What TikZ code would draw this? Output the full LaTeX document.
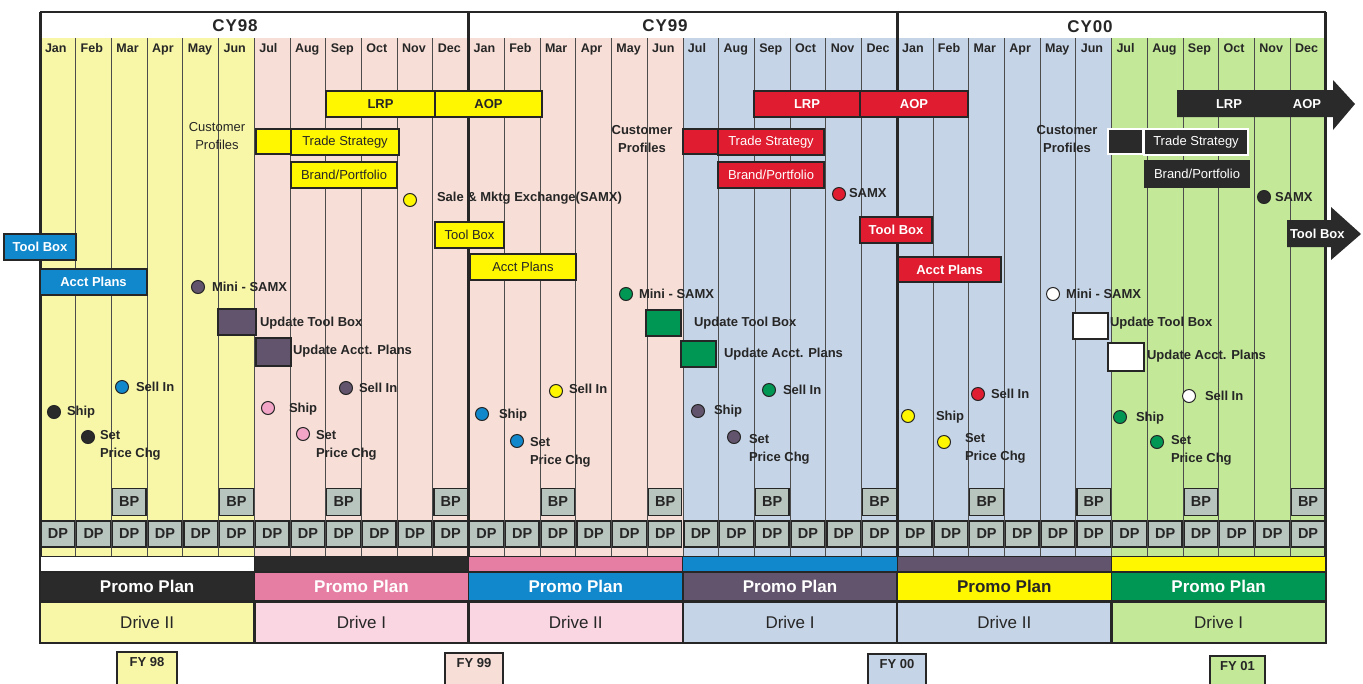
\documentclass[tikz,border=0pt]{standalone}
\usepackage{fontspec}
\setmainfont{Liberation Sans}
\usetikzlibrary{positioning}
\definecolor{bgyellow}{RGB}{248,247,168}
\definecolor{bgpink}{RGB}{247,222,214}
\definecolor{bgblue}{RGB}{198,212,231}
\definecolor{bggreen}{RGB}{194,232,152}
\definecolor{drivepink}{RGB}{249,214,225}
\definecolor{taskyellow}{RGB}{255,247,0}
\definecolor{taskred}{RGB}{224,28,48}
\definecolor{taskblue}{RGB}{18,136,204}
\definecolor{taskdark}{RGB}{42,42,42}
\definecolor{taskpurple}{RGB}{98,84,108}
\definecolor{taskgreen}{RGB}{0,150,84}
\definecolor{taskpink}{RGB}{229,126,162}
\definecolor{dotpink}{RGB}{242,165,198}
\definecolor{plangrey}{RGB}{184,196,190}
\definecolor{ink}{RGB}{38,38,38}

\begin{document}
\begin{tikzpicture}[x=1pt, y=-1pt,
  every node/.style={inner sep=0pt, outer sep=0pt, text=ink, font=\fontsize{13}{15}\selectfont},
  month/.style={anchor=west, text height=9.3pt, text depth=0pt, font=\fontsize{12.5}{15}\selectfont\bfseries},
  yearlbl/.style={font=\fontsize{17}{19}\selectfont\bfseries\addfontfeature{LetterSpace=5}},
  monthline/.style={draw=black!70, line width=0.9pt},
  yearline/.style={draw=ink, line width=3pt},
  task/.style={draw=ink, line width=1.2pt, minimum height=26pt},
  ytask/.style={task, fill=taskyellow},
  rtask/.style={task, fill=taskred, text=white},
  btask/.style={task, fill=taskblue, text=white, font=\fontsize{13}{15}\selectfont\bfseries},
  dtask/.style={draw=white, line width=1.2pt, fill=taskdark, text=white, minimum height=26pt},
  dot/.style={circle, draw=ink, line width=1pt, minimum size=13pt},
  lbl/.style={anchor=west, text height=9.3pt, text depth=0pt, font=\fontsize{13}{15}\selectfont\bfseries},
  pair/.style={anchor=north west, align=left, font=\fontsize{13}{18}\selectfont\bfseries},
  cust/.style={align=center, font=\fontsize{13}{18}\selectfont},
  plan/.style={draw=ink, line width=1.2pt, fill=plangrey, minimum width=33.5pt, minimum height=26pt, font=\fontsize{14.5}{16}\selectfont\bfseries},
  strip/.style={draw=ink, line width=1pt, minimum width=214.3pt, minimum height=16pt},
  promo/.style={draw=ink, line width=1.5pt, minimum width=214.3pt, minimum height=29pt, font=\fontsize{17}{19}\selectfont\bfseries},
  drive/.style={draw=ink, line width=2.4pt, minimum width=214.3pt, minimum height=41pt, font=\fontsize{17}{19}\selectfont},
  fybox/.style={anchor=north west, draw=ink, line width=2pt, inner ysep=5pt, text height=9.5pt, text depth=26pt, font=\fontsize{13}{15}\selectfont\bfseries}]
\useasboundingbox (0,0) rectangle (1363,683);

% half-year backgrounds
\fill[bgyellow] (40,38) rectangle (254.3,556);
\fill[bgpink] (254.3,38) rectangle (682.9,556);
\fill[bgblue] (682.9,38) rectangle (1111.5,556);
\fill[bggreen] (1111.5,38) rectangle (1325.8,556);
\fill[white] (40,12) rectangle (1325.8,38);

\foreach \i in {1,...,35}
  \draw[monthline] ({40+\i*35.72},38) -- ({40+\i*35.72},556);

% months and years
\foreach \yr [count=\k from 0] in {98,99,00} {
  \foreach \mo [count=\i from 0] in {Jan,Feb,Mar,Apr,May,Jun,Jul,Aug,Sep,Oct,Nov,Dec}
    \node[month] (\mo\yr) at ({45+\k*428.6+\i*35.72},48) {\mo};
}
\node[yearlbl] (cy98) at (235,26) {CY98};
\node[yearlbl] (cy99) at (665,26) {CY99};
\node[yearlbl] (cy00) at (1090,27) {CY00};

\draw[ink, line width=2pt] (40,12) -- (1325.8,12);
\foreach \x in {40,468.6,897.2,1325.8}
  \draw[yearline] (\x,12) -- (\x,643);

% CY98
\node[ytask, minimum width=109pt] (lrp98) at (380.5,104) {\bfseries LRP};
\node[ytask, minimum width=107pt] (aop98) at (488.5,104) {\bfseries AOP};
\node[cust] (cust98) at (217,136) {Customer\\Profiles};
\node[ytask, minimum width=35pt, minimum height=25pt] (pre98) at (273.5,141.5) {};
\node[ytask, minimum width=108pt] (trade98) at (345,142) {Trade Strategy};
\node[ytask, minimum width=106pt] (brand98) at (344,175) {Brand/Portfolio};
\node[dot, fill=taskyellow] (samx98) at (410,200) {};
\node[lbl] (samx98l) at (437,197) {Sale \& Mktg Exchange(SAMX)};
\node[btask, minimum width=72pt] (tool98) at (40,247) {Tool Box};
\node[btask, minimum width=107pt] (acct98) at (93.5,282) {Acct Plans};
\node[dot, fill=taskpurple] (mini98) at (198,287) {};
\node[lbl] (mini98l) at (212,287) {Mini - SAMX};
\node[task, fill=taskpurple, minimum width=38pt] (upt98) at (237,322) {};
\node[lbl] (upt98l) at (260,322) {Update Tool Box};
\node[task, fill=taskpurple, minimum width=35pt, minimum height=28pt] (upa98) at (273.5,352) {};
\node[lbl] (upa98l) at (293,350) {Update Acct. Plans};
\node[dot, fill=taskblue] (sell98a) at (122,387) {};
\node[lbl] (sell98al) at (136,387) {Sell In};
\node[dot, fill=taskdark] (ship98a) at (54,412) {};
\node[lbl] (ship98al) at (67,411) {Ship};
\node[dot, fill=taskdark] (set98a) at (88,437) {};
\node[pair] (set98al) at (100,430.5) {Set\\Price Chg};
\node[dot, fill=taskpurple] (sell98b) at (346,388) {};
\node[lbl] (sell98bl) at (359,388) {Sell In};
\node[dot, fill=dotpink] (ship98b) at (268,408) {};
\node[lbl] (ship98bl) at (289,408) {Ship};
\node[dot, fill=dotpink] (set98b) at (303,434) {};
\node[pair] (set98bl) at (316,430.5) {Set\\Price Chg};

% CY99
\node[ytask, minimum width=69pt] (tool99) at (469.5,235) {Tool Box};
\node[ytask, minimum width=106pt] (acct99) at (523,267) {Acct Plans};
\node[cust, font=\fontsize{13}{18}\selectfont\bfseries] (cust99) at (642,139) {Customer\\Profiles};
\node[dot, fill=taskgreen] (mini99) at (626,294) {};
\node[lbl] (mini99l) at (639,294) {Mini - SAMX};
\node[task, fill=taskgreen, minimum width=35pt] (upt99) at (663.5,323) {};
\node[lbl] (upt99l) at (694,322) {Update Tool Box};
\node[task, fill=taskgreen, minimum width=35pt] (upa99) at (698.5,354) {};
\node[lbl] (upa99l) at (724,353) {Update Acct. Plans};
\node[dot, fill=taskyellow] (sell99a) at (556,391) {};
\node[lbl] (sell99al) at (569,389) {Sell In};
\node[dot, fill=taskblue] (ship99a) at (482,414) {};
\node[lbl] (ship99al) at (499,414) {Ship};
\node[dot, fill=taskblue] (set99a) at (517,441) {};
\node[pair] (set99al) at (530,437.5) {Set\\Price Chg};
\node[rtask, minimum width=106pt] (lrp99) at (807,104) {\bfseries LRP};
\node[rtask, minimum width=108pt] (aop99) at (914,104) {\bfseries AOP};
\node[rtask, minimum width=35pt, minimum height=25pt] (pre99) at (700.5,141.5) {};
\node[rtask, minimum width=106pt] (trade99) at (771,142) {Trade Strategy};
\node[rtask, minimum width=106pt] (brand99) at (771,175) {Brand/Portfolio};
\node[dot, fill=taskred] (samx99) at (839,194) {};
\node[lbl] (samx99l) at (849,193) {SAMX};
\node[dot, fill=taskgreen] (sell99b) at (769,390) {};
\node[lbl] (sell99bl) at (783,390) {Sell In};
\node[dot, fill=taskpurple] (ship99b) at (698,411) {};
\node[lbl] (ship99bl) at (714,410) {Ship};
\node[dot, fill=taskpurple] (set99b) at (734,437) {};
\node[pair] (set99bl) at (749,434.5) {Set\\Price Chg};

% CY00
\node[rtask, minimum width=72pt, font=\fontsize{13}{15}\selectfont\bfseries] (tool00) at (896,230) {Tool Box};
\node[rtask, minimum width=103pt, minimum height=25pt, font=\fontsize{13}{15}\selectfont\bfseries] (acct00) at (949.5,269.5) {Acct Plans};
\node[cust, font=\fontsize{13}{18}\selectfont\bfseries] (cust00) at (1067,139) {Customer\\Profiles};
\node[dot, fill=white] (mini00) at (1053,294) {};
\node[lbl] (mini00l) at (1066,294) {Mini - SAMX};
\node[task, fill=white, minimum width=35pt] (upt00) at (1090.5,326) {};
\node[lbl] (upt00l) at (1110,322) {Update Tool Box};
\node[task, fill=white, minimum width=36pt, minimum height=28pt] (upa00) at (1126,357) {};
\node[lbl] (upa00l) at (1147,355) {Update Acct. Plans};
\node[dot, fill=taskred] (sell00a) at (978,394) {};
\node[lbl] (sell00al) at (991,394) {Sell In};
\node[dot, fill=taskyellow] (ship00a) at (908,416) {};
\node[lbl] (ship00al) at (936,416) {Ship};
\node[dot, fill=taskyellow] (set00a) at (944,442) {};
\node[pair] (set00al) at (965,433.5) {Set\\Price Chg};
\fill[taskdark] (1177,90) -- (1333,90) -- (1333,80) -- (1355,104) -- (1333,130) -- (1333,117) -- (1177,117) -- cycle;
\node[text=white, font=\fontsize{13}{15}\selectfont\bfseries] (lrp00) at (1229,104) {LRP};
\node[text=white, font=\fontsize{13}{15}\selectfont\bfseries] (aop00) at (1307,104) {AOP};
\node[dtask, minimum width=35pt, minimum height=25pt] (pre00) at (1125.5,141.5) {};
\node[dtask, minimum width=104pt] (trade00) at (1196,142) {Trade Strategy};
\node[dtask, draw=none, minimum width=106pt, minimum height=28pt] (brand00) at (1197,174) {Brand/Portfolio};
\node[dot, fill=taskdark] (samx00) at (1264,197) {};
\node[lbl] (samx00l) at (1275,197) {SAMX};
\fill[taskdark] (1287,220) -- (1331,220) -- (1331,207) -- (1361,234) -- (1331,260) -- (1331,247) -- (1287,247) -- cycle;
\node[lbl, text=white] (tool01) at (1290,234) {Tool Box};
\node[dot, fill=white] (sell00b) at (1189,396) {};
\node[lbl] (sell00bl) at (1205,396) {Sell In};
\node[dot, fill=taskgreen] (ship00b) at (1120,417) {};
\node[lbl] (ship00bl) at (1136,417) {Ship};
\node[dot, fill=taskgreen] (set00b) at (1157,442) {};
\node[pair] (set00bl) at (1171,435.5) {Set\\Price Chg};

% BP and DP rows
\foreach \i in {2,5,...,35}
  \node[plan, minimum height=27pt] (bp\i) at ({40+(\i+0.5)*35.72},502) {BP};
\foreach \i in {0,...,35}
  \node[plan] (dp\i) at ({40+(\i+0.5)*35.72},534) {DP};

% promo plans and drives
\foreach \h/\sc/\pc/\tc/\dc/\dl in {0/white/taskdark/white/bgyellow/Drive II,1/taskdark/taskpink/white/drivepink/Drive I,2/taskpink/taskblue/white/drivepink/Drive II,3/taskblue/taskpurple/white/bgblue/Drive I,4/taskpurple/taskyellow/ink/bgblue/Drive II,5/taskyellow/taskgreen/white/bggreen/Drive I} {
  \node[strip, fill=\sc] (strip\h) at ({40+(\h+0.5)*214.3},564) {};
  \node[promo, fill=\pc, text=\tc] (promo\h) at ({40+(\h+0.5)*214.3},586.5) {Promo Plan};
  \node[drive, fill=\dc] (drive\h) at ({40+(\h+0.5)*214.3},622.5) {\dl};
}

% fiscal years
\node[fybox, fill=bgyellow, minimum width=60pt] (fy98) at (117,652) {FY 98};
\node[fybox, fill=bgpink, minimum width=58pt] (fy99) at (445,653) {FY 99};
\node[fybox, fill=bgblue, minimum width=58pt] (fy00) at (868,654) {FY 00};
\node[fybox, fill=bggreen, minimum width=55pt] (fy01) at (1210,656) {FY 01};
\end{tikzpicture}
\end{document}
